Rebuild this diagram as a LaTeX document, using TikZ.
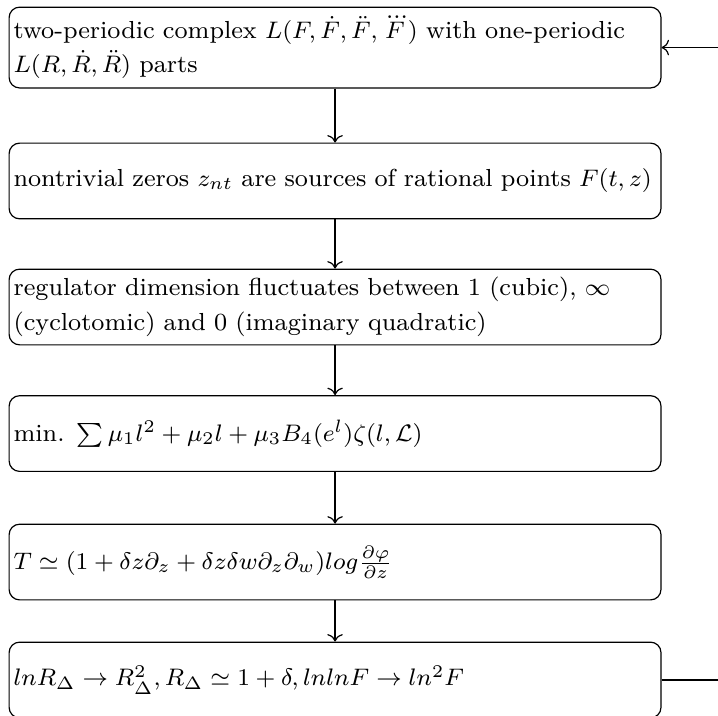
\documentclass[tikz,border=0pt]{standalone}
\usepackage{amsmath}
\usetikzlibrary{arrows.meta}

\begin{document}
\begin{tikzpicture}[
    stepbox/.style={rectangle, draw, rounded corners=3.5pt, inner xsep=1.5pt,
                    inner ysep=2.5pt, text width=7.56cm, minimum height=0.89cm,
                    align=left, font=\fontsize{8.25}{11.5}\selectfont},
    arr/.style={->}
  ]
  \useasboundingbox (0,0) rectangle (8.443,-8.408);
  \clip (0,0) rectangle (8.443,-8.408);

  \node[stepbox, minimum height=0.95cm] (periodic) at (3.94,-0.559)
        {two-periodic complex $L(F,\dot{F},\ddot{F},\dddot{F})$ with one-periodic
         $L(R,\dot{R},\ddot{R})$ parts};
  \node[stepbox] (zeros) at (3.94,-2.128)
        {nontrivial zeros $z_{nt}$ are sources of rational points $F(t,z)$};
  \node[stepbox] (regulator) at (3.94,-3.61)
        {regulator dimension fluctuates between 1 (cubic), $\infty$
         (cyclotomic) and 0 (imaginary quadratic)};
  \node[stepbox] (minimum) at (3.94,-5.098)
        {min.\enspace$\sum \mu_1 l^2 + \mu_2 l + \mu_3 B_4(e^l)\zeta(l,\mathcal{L})$};
  \node[stepbox] (torsion) at (3.94,-6.609)
        {$T \simeq (1+\delta z\partial_z+\delta z\delta w\partial_z\partial_w)log\frac{\partial\varphi}{\partial z}$};
  \node[stepbox] (limit) at (3.94,-7.996)
        {$lnR_\Delta \rightarrow R^2_\Delta, R_\Delta \simeq 1+\delta, lnlnF \rightarrow ln^2F$};

  \draw[arr] (periodic)  -- (zeros);
  \draw[arr] (zeros)     -- (regulator);
  \draw[arr] (regulator) -- (minimum);
  \draw[arr] (minimum)   -- (torsion);
  \draw[arr] (torsion)   -- (limit);
  % feedback loop runs off the right edge
  \draw[arr] (limit.east) -- ++(1.5,0) |- (periodic.east);
\end{tikzpicture}
\end{document}
